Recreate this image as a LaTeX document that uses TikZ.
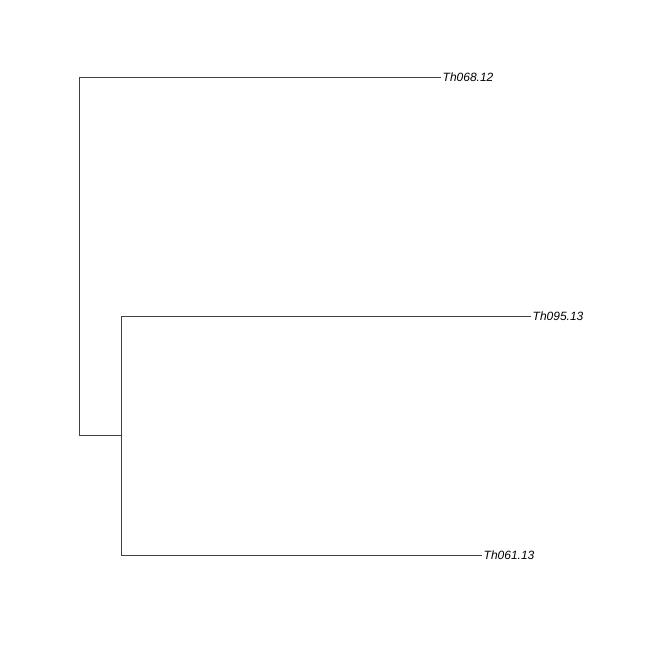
\documentclass[tikz,border=0pt]{standalone}
\usepackage{fontspec}
\setmainfont{Liberation Sans}
\usepackage{tikz}
\usetikzlibrary{positioning}

\tikzset{
  branch/.style={draw=black!75,line width=0.8pt},
  tiplabel/.style={anchor=west,inner sep=1.5pt,font=\fontsize{12}{14}\selectfont\itshape}
}

\begin{document}
\begin{tikzpicture}[x=1pt,y=-1pt]
\useasboundingbox (0,0) rectangle (648,648);

%internal nodes
\coordinate (root) at (79,435.5);
\coordinate (inner) at (121,435.5);

%tips
\node[tiplabel] (th068) at (441,77) {Th068.12};
\node[tiplabel] (th095) at (531,316) {Th095.13};
\node[tiplabel] (th061) at (482,555) {Th061.13};

%edges
\draw [branch] (root) |- (th068.west);
\draw [branch] (root) -- (inner);
\draw [branch] (inner) |- (th095.west);
\draw [branch] (inner) |- (th061.west);
\end{tikzpicture}
\end{document}
